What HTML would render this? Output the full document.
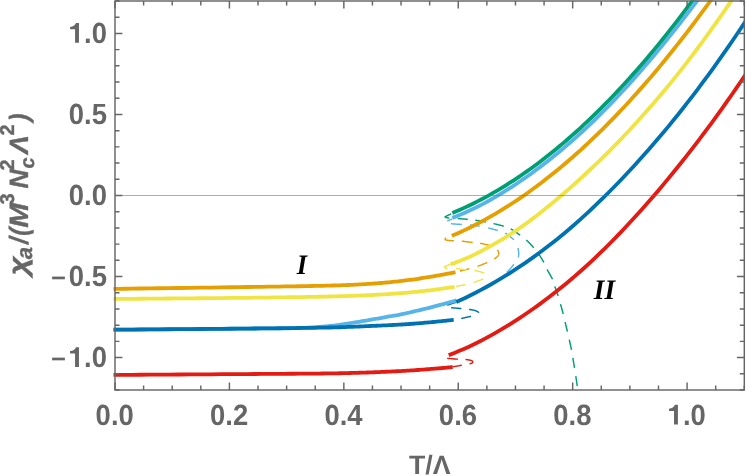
<!DOCTYPE html>
<html><head><meta charset="utf-8"><title>plot</title>
<style>html,body{margin:0;padding:0;background:#fff}svg{display:block;will-change:transform}text{text-rendering:geometricPrecision}</style>
</head><body>
<svg width="747" height="476" viewBox="0 0 747 476">
<rect width="747" height="476" fill="#fff"/>
<clipPath id="c"><rect x="112" y="0.3" width="632.9" height="391"/></clipPath>
<g clip-path="url(#c)" fill="none" stroke-linejoin="round">
<path d="M451.80,235.20 L451.66,235.27 L451.49,235.36 L451.29,235.46 L451.07,235.58 L450.82,235.71 L450.56,235.84 L450.29,235.98 L450.02,236.12 L449.74,236.27 L449.47,236.41 L449.20,236.54 L448.95,236.67 L448.71,236.79 L448.50,236.90 L448.30,237.00 L448.11,237.09 L447.92,237.18 L447.73,237.27 L447.55,237.35 L447.38,237.43 L447.21,237.51 L447.04,237.59 L446.88,237.66 L446.73,237.73 L446.59,237.80 L446.45,237.87 L446.32,237.94 L446.20,238.00 L446.09,238.06 L445.98,238.12 L445.88,238.18 L445.79,238.23 L445.71,238.28 L445.63,238.33 L445.56,238.38 L445.50,238.43 L445.44,238.47 L445.38,238.52 L445.33,238.56 L445.28,238.61 L445.24,238.65 L445.20,238.70 L445.16,238.75 L445.13,238.79 L445.10,238.84 L445.08,238.88 L445.07,238.92 L445.05,238.96 L445.04,239.01 L445.04,239.05 L445.04,239.09 L445.04,239.13 L445.05,239.17 L445.06,239.22 L445.08,239.26 L445.10,239.30 L445.12,239.34 L445.15,239.39 L445.18,239.43 L445.21,239.48 L445.25,239.52 L445.29,239.57 L445.34,239.61 L445.39,239.66 L445.44,239.70 L445.50,239.74 L445.57,239.78 L445.64,239.82 L445.72,239.86 L445.80,239.90 L445.88,239.93 L445.95,239.97 L446.01,240.00 L446.08,240.03 L446.14,240.05 L446.21,240.08 L446.29,240.11 L446.39,240.13 L446.51,240.16 L446.64,240.18 L446.81,240.21 L447.00,240.24 L447.23,240.27 L447.50,240.30 L447.81,240.33 L448.15,240.37 L448.53,240.40 L448.94,240.44 L449.37,240.48 L449.83,240.51 L450.31,240.55 L450.80,240.59 L451.30,240.62 L451.82,240.66 L452.34,240.70 L452.86,240.73 L453.38,240.77 L453.90,240.80 L454.42,240.83 L454.93,240.85 L455.46,240.88 L455.99,240.90 L456.52,240.91 L457.07,240.93 L457.62,240.95 L458.19,240.97 L458.77,240.99 L459.36,241.02 L459.97,241.06 L460.60,241.10 L461.24,241.14 L461.90,241.20 L462.59,241.27 L463.33,241.34 L464.09,241.43 L464.88,241.52 L465.69,241.62 L466.51,241.72 L467.34,241.82 L468.16,241.93 L468.98,242.04 L469.78,242.14 L470.56,242.24 L471.31,242.33 L472.03,242.42 L472.70,242.50 L473.33,242.57 L473.94,242.63 L474.52,242.69 L475.07,242.74 L475.61,242.79 L476.13,242.84 L476.64,242.89 L477.13,242.93 L477.63,242.98 L478.11,243.03 L478.60,243.09 L479.09,243.15 L479.59,243.22 L480.10,243.30 L480.62,243.38 L481.13,243.47 L481.66,243.57 L482.18,243.67 L482.70,243.77 L483.21,243.88 L483.73,243.99 L484.23,244.10 L484.73,244.21 L485.23,244.33 L485.71,244.45 L486.19,244.56 L486.65,244.68 L487.10,244.80 L487.54,244.92 L487.97,245.04 L488.40,245.16 L488.81,245.28 L489.22,245.40 L489.63,245.53 L490.02,245.66 L490.40,245.78 L490.78,245.92 L491.14,246.05 L491.50,246.18 L491.84,246.32 L492.18,246.46 L492.50,246.60 L492.81,246.75 L493.11,246.90 L493.41,247.05 L493.69,247.21 L493.96,247.37 L494.22,247.54 L494.48,247.70 L494.72,247.86 L494.95,248.03 L495.18,248.19 L495.40,248.35 L495.61,248.50 L495.81,248.65 L496.00,248.80 L496.18,248.94 L496.35,249.07 L496.51,249.20 L496.66,249.32 L496.80,249.44 L496.93,249.56 L497.06,249.68 L497.17,249.79 L497.29,249.91 L497.39,250.04 L497.50,250.17 L497.60,250.30 L497.70,250.45 L497.80,250.60 L497.90,250.76 L498.00,250.93 L498.10,251.10 L498.20,251.28 L498.30,251.46 L498.39,251.64 L498.48,251.83 L498.55,252.02 L498.62,252.22 L498.68,252.41 L498.73,252.61 L498.77,252.81 L498.79,253.00 L498.80,253.20 L498.80,253.40 L498.79,253.60 L498.77,253.80 L498.74,254.01 L498.70,254.22 L498.65,254.43 L498.59,254.64 L498.52,254.85 L498.44,255.06 L498.34,255.27 L498.23,255.48 L498.10,255.69 L497.96,255.90 L497.80,256.10 L497.63,256.30 L497.44,256.50 L497.25,256.69 L497.04,256.88 L496.81,257.07 L496.58,257.27 L496.32,257.46 L496.06,257.65 L495.78,257.85 L495.48,258.04 L495.16,258.25 L494.83,258.46 L494.47,258.68 L494.10,258.90 L493.71,259.13 L493.30,259.37 L492.87,259.61 L492.42,259.86 L491.95,260.11 L491.47,260.37 L490.97,260.63 L490.46,260.89 L489.93,261.16 L489.39,261.43 L488.83,261.69 L488.27,261.96 L487.69,262.23 L487.10,262.50 L486.49,262.77 L485.85,263.06 L485.19,263.34 L484.50,263.64 L483.80,263.94 L483.09,264.23 L482.37,264.53 L481.65,264.82 L480.92,265.11 L480.21,265.39 L479.50,265.66 L478.82,265.92 L478.15,266.17 L477.50,266.40 L476.88,266.61 L476.28,266.81 L475.69,267.00 L475.12,267.17 L474.56,267.34 L474.00,267.49 L473.45,267.64 L472.90,267.79 L472.34,267.94 L471.78,268.08 L471.21,268.23 L470.62,268.38 L470.02,268.54 L469.40,268.70 L468.75,268.87 L468.06,269.05 L467.35,269.23 L466.61,269.42 L465.86,269.60 L465.11,269.79 L464.36,269.97 L463.62,270.16 L462.90,270.33 L462.20,270.51 L461.53,270.67 L460.91,270.82 L460.33,270.97 L459.80,271.10 L459.32,271.22 L458.87,271.33 L458.45,271.44 L458.06,271.54 L457.70,271.63 L457.36,271.72 L457.05,271.80 L456.76,271.87 L456.50,271.94 L456.26,272.00 L456.04,272.06 L455.84,272.11 L455.66,272.16 L455.50,272.20" stroke="#E69F00" stroke-width="1.45" stroke-dasharray="0 6.26 11.0 8.01 10.88 7.44 10.2 8.5 11.47 7.88 10.36 8.42 9.9 999"/>
<path d="M452.30,218.90 L452.19,218.94 L452.06,219.00 L451.91,219.06 L451.74,219.14 L451.56,219.22 L451.36,219.30 L451.16,219.39 L450.94,219.48 L450.73,219.57 L450.51,219.66 L450.30,219.75 L450.09,219.84 L449.89,219.92 L449.70,220.00 L449.51,220.08 L449.32,220.15 L449.12,220.23 L448.92,220.30 L448.72,220.38 L448.52,220.46 L448.32,220.53 L448.13,220.60 L447.94,220.68 L447.77,220.75 L447.60,220.81 L447.45,220.88 L447.32,220.94 L447.20,221.00 L447.10,221.05 L447.01,221.10 L446.94,221.15 L446.88,221.19 L446.83,221.24 L446.79,221.27 L446.76,221.31 L446.73,221.35 L446.72,221.39 L446.70,221.43 L446.70,221.47 L446.70,221.51 L446.70,221.55 L446.70,221.60 L446.71,221.65 L446.72,221.70 L446.74,221.76 L446.77,221.82 L446.80,221.88 L446.83,221.93 L446.88,221.99 L446.92,222.05 L446.97,222.11 L447.03,222.17 L447.09,222.23 L447.16,222.29 L447.23,222.35 L447.30,222.40 L447.38,222.45 L447.46,222.51 L447.55,222.56 L447.64,222.61 L447.74,222.66 L447.84,222.71 L447.95,222.76 L448.06,222.81 L448.18,222.86 L448.29,222.91 L448.42,222.96 L448.54,223.01 L448.67,223.05 L448.80,223.10 L448.91,223.15 L449.00,223.19 L449.07,223.23 L449.12,223.27 L449.18,223.31 L449.24,223.35 L449.31,223.39 L449.41,223.43 L449.54,223.48 L449.72,223.52 L449.94,223.56 L450.22,223.60 L450.57,223.65 L451.00,223.70 L451.52,223.75 L452.13,223.81 L452.81,223.86 L453.56,223.92 L454.37,223.98 L455.21,224.04 L456.08,224.11 L456.97,224.17 L457.86,224.23 L458.74,224.29 L459.59,224.34 L460.41,224.40 L461.19,224.45 L461.90,224.50 L462.56,224.54 L463.19,224.58 L463.79,224.61 L464.37,224.64 L464.94,224.67 L465.49,224.70 L466.03,224.72 L466.57,224.75 L467.11,224.78 L467.66,224.81 L468.22,224.85 L468.79,224.89 L469.38,224.94 L470.00,225.00 L470.64,225.06 L471.30,225.13 L471.98,225.20 L472.66,225.27 L473.36,225.35 L474.06,225.43 L474.77,225.52 L475.48,225.61 L476.18,225.70 L476.89,225.79 L477.58,225.89 L478.27,225.99 L478.94,226.09 L479.60,226.20 L480.24,226.31 L480.87,226.42 L481.49,226.53 L482.10,226.65 L482.70,226.77 L483.30,226.89 L483.90,227.02 L484.50,227.15 L485.10,227.28 L485.70,227.42 L486.31,227.56 L486.93,227.70 L487.56,227.85 L488.20,228.00 L488.86,228.16 L489.54,228.32 L490.23,228.49 L490.93,228.66 L491.64,228.83 L492.35,229.01 L493.07,229.19 L493.78,229.38 L494.49,229.56 L495.18,229.75 L495.86,229.94 L496.53,230.13 L497.18,230.31 L497.80,230.50 L498.41,230.69 L499.02,230.88 L499.62,231.07 L500.22,231.27 L500.81,231.47 L501.39,231.67 L501.95,231.87 L502.50,232.07 L503.02,232.26 L503.53,232.46 L504.02,232.65 L504.47,232.84 L504.90,233.02 L505.30,233.20 L505.66,233.37 L505.96,233.52 L506.23,233.66 L506.46,233.80 L506.67,233.93 L506.86,234.06 L507.03,234.19 L507.20,234.33 L507.37,234.47 L507.55,234.63 L507.75,234.79 L507.97,234.97 L508.21,235.18 L508.50,235.40 L508.82,235.65 L509.18,235.92 L509.56,236.21 L509.96,236.52 L510.38,236.84 L510.81,237.17 L511.24,237.51 L511.67,237.85 L512.09,238.19 L512.50,238.53 L512.89,238.86 L513.26,239.19 L513.60,239.50 L513.90,239.80 L514.17,240.08 L514.43,240.36 L514.66,240.62 L514.88,240.88 L515.08,241.14 L515.27,241.39 L515.45,241.64 L515.62,241.90 L515.77,242.15 L515.93,242.40 L516.07,242.67 L516.22,242.94 L516.36,243.21 L516.50,243.50 L516.64,243.80 L516.77,244.10 L516.89,244.40 L517.00,244.71 L517.11,245.03 L517.22,245.35 L517.31,245.67 L517.40,245.99 L517.49,246.32 L517.58,246.65 L517.66,246.99 L517.74,247.32 L517.82,247.66 L517.90,248.00 L517.98,248.34 L518.06,248.69 L518.13,249.05 L518.21,249.41 L518.28,249.77 L518.35,250.13 L518.42,250.50 L518.48,250.87 L518.53,251.23 L518.58,251.59 L518.63,251.95 L518.66,252.31 L518.68,252.66 L518.70,253.00 L518.71,253.34 L518.71,253.68 L518.70,254.02 L518.69,254.35 L518.67,254.69 L518.64,255.02 L518.61,255.34 L518.57,255.67 L518.52,255.99 L518.47,256.30 L518.41,256.61 L518.35,256.91 L518.28,257.21 L518.20,257.50 L518.12,257.78 L518.03,258.05 L517.93,258.32 L517.83,258.58 L517.72,258.83 L517.60,259.08 L517.48,259.32 L517.35,259.57 L517.22,259.81 L517.09,260.04 L516.95,260.28 L516.80,260.52 L516.65,260.76 L516.50,261.00 L516.34,261.24 L516.18,261.47 L516.02,261.70 L515.85,261.93 L515.67,262.16 L515.49,262.38 L515.31,262.61 L515.12,262.83 L514.92,263.06 L514.73,263.30 L514.53,263.54 L514.32,263.78 L514.11,264.04 L513.90,264.30 L513.68,264.57 L513.46,264.86 L513.23,265.15 L512.99,265.45 L512.75,265.75 L512.51,266.06 L512.26,266.37 L512.01,266.68 L511.76,266.99 L511.51,267.30 L511.26,267.61 L511.00,267.91 L510.75,268.21 L510.50,268.50 L510.24,268.79 L509.96,269.10 L509.68,269.41 L509.38,269.73 L509.08,270.04 L508.78,270.36 L508.49,270.66 L508.20,270.96 L507.93,271.24 L507.67,271.50 L507.44,271.74 L507.23,271.96 L507.05,272.15 L506.90,272.30" stroke="#56B4E9" stroke-width="1.45" stroke-dasharray="0 0.0 5.52 5.85 10.93 8.12 9.68 8.79 9.92 7.98 10.87 9.27 9.62 8.11 10.64 999"/>
<path d="M452.60,212.60 L452.55,212.65 L452.49,212.71 L452.43,212.77 L452.35,212.85 L452.28,212.93 L452.19,213.01 L452.10,213.11 L452.00,213.20 L451.89,213.30 L451.77,213.40 L451.64,213.50 L451.51,213.60 L451.36,213.70 L451.20,213.80 L451.02,213.90 L450.83,214.00 L450.62,214.11 L450.39,214.22 L450.16,214.33 L449.91,214.44 L449.66,214.55 L449.41,214.66 L449.16,214.77 L448.91,214.88 L448.67,214.99 L448.43,215.10 L448.21,215.20 L448.00,215.30 L447.80,215.40 L447.60,215.49 L447.40,215.59 L447.20,215.69 L447.01,215.78 L446.82,215.88 L446.63,215.97 L446.45,216.06 L446.28,216.14 L446.12,216.22 L445.97,216.30 L445.84,216.37 L445.71,216.44 L445.60,216.50 L445.50,216.55 L445.42,216.60 L445.35,216.64 L445.29,216.67 L445.24,216.70 L445.20,216.72 L445.16,216.74 L445.14,216.76 L445.12,216.78 L445.11,216.80 L445.10,216.82 L445.10,216.84 L445.10,216.87 L445.10,216.90 L445.11,216.93 L445.12,216.97 L445.13,217.00 L445.16,217.04 L445.18,217.08 L445.22,217.11 L445.26,217.15 L445.30,217.19 L445.35,217.22 L445.41,217.26 L445.47,217.30 L445.54,217.33 L445.62,217.37 L445.70,217.40 L445.79,217.43 L445.89,217.46 L446.00,217.49 L446.12,217.52 L446.25,217.55 L446.38,217.58 L446.52,217.61 L446.66,217.64 L446.80,217.67 L446.94,217.70 L447.09,217.72 L447.23,217.75 L447.37,217.77 L447.50,217.80 L447.62,217.82 L447.71,217.85 L447.79,217.87 L447.85,217.89 L447.91,217.91 L447.98,217.93 L448.05,217.95 L448.14,217.97 L448.25,217.99 L448.40,218.01 L448.57,218.03 L448.80,218.05 L449.07,218.08 L449.40,218.10 L449.79,218.12 L450.22,218.15 L450.70,218.17 L451.23,218.19 L451.78,218.21 L452.37,218.24 L452.98,218.26 L453.62,218.29 L454.27,218.32 L454.93,218.35 L455.60,218.38 L456.27,218.42 L456.94,218.46 L457.60,218.50 L458.27,218.55 L458.98,218.60 L459.70,218.66 L460.45,218.72 L461.21,218.79 L461.97,218.86 L462.74,218.93 L463.51,219.00 L464.27,219.07 L465.02,219.14 L465.76,219.20 L466.47,219.27 L467.15,219.34 L467.80,219.40 L468.43,219.46 L469.04,219.52 L469.63,219.58 L470.22,219.64 L470.79,219.70 L471.34,219.76 L471.89,219.81 L472.42,219.87 L472.93,219.93 L473.43,219.98 L473.92,220.04 L474.39,220.09 L474.85,220.15 L475.30,220.20 L475.72,220.25 L476.12,220.30 L476.49,220.35 L476.84,220.40 L477.17,220.44 L477.49,220.49 L477.80,220.53 L478.11,220.58 L478.42,220.62 L478.73,220.67 L479.05,220.73 L479.38,220.78 L479.73,220.84 L480.10,220.90 L480.48,220.97 L480.87,221.03 L481.26,221.10 L481.66,221.17 L482.06,221.24 L482.47,221.32 L482.88,221.39 L483.30,221.47 L483.73,221.55 L484.17,221.64 L484.61,221.72 L485.06,221.81 L485.53,221.91 L486.00,222.00 L486.48,222.10 L486.96,222.19 L487.45,222.29 L487.95,222.39 L488.45,222.49 L488.96,222.60 L489.48,222.71 L490.01,222.82 L490.56,222.93 L491.11,223.06 L491.69,223.18 L492.27,223.31 L492.88,223.45 L493.50,223.60 L494.15,223.75 L494.84,223.92 L495.56,224.09 L496.31,224.27 L497.07,224.45 L497.85,224.64 L498.63,224.83 L499.41,225.03 L500.18,225.22 L500.94,225.42 L501.68,225.62 L502.39,225.81 L503.06,226.01 L503.70,226.20 L504.30,226.39 L504.89,226.58 L505.45,226.77 L506.00,226.96 L506.53,227.15 L507.05,227.34 L507.55,227.53 L508.04,227.72 L508.51,227.92 L508.97,228.11 L509.42,228.31 L509.85,228.50 L510.28,228.70 L510.70,228.90 L511.10,229.10 L511.48,229.30 L511.84,229.50 L512.18,229.70 L512.51,229.90 L512.83,230.10 L513.14,230.31 L513.44,230.51 L513.74,230.72 L514.04,230.93 L514.34,231.14 L514.65,231.36 L514.97,231.58 L515.30,231.80 L515.63,232.02 L515.96,232.25 L516.29,232.47 L516.62,232.69 L516.94,232.92 L517.27,233.15 L517.60,233.38 L517.93,233.62 L518.27,233.86 L518.62,234.11 L518.98,234.37 L519.34,234.64 L519.71,234.91 L520.10,235.20 L520.50,235.49 L520.90,235.79 L521.31,236.08 L521.73,236.38 L522.16,236.69 L522.60,237.01 L523.04,237.33 L523.49,237.67 L523.94,238.01 L524.40,238.38 L524.87,238.75 L525.34,239.15 L525.82,239.56 L526.30,240.00 L526.80,240.46 L527.32,240.96 L527.85,241.49 L528.40,242.04 L528.96,242.61 L529.52,243.19 L530.09,243.78 L530.65,244.37 L531.20,244.96 L531.74,245.54 L532.26,246.11 L532.77,246.66 L533.25,247.20 L533.70,247.70 L534.12,248.17 L534.52,248.62 L534.89,249.05 L535.24,249.46 L535.58,249.85 L535.91,250.24 L536.23,250.63 L536.54,251.02 L536.85,251.42 L537.16,251.83 L537.48,252.26 L537.81,252.71 L538.14,253.19 L538.50,253.70 L538.87,254.25 L539.26,254.83 L539.66,255.43 L540.06,256.07 L540.47,256.71 L540.89,257.38 L541.30,258.04 L541.71,258.71 L542.11,259.38 L542.50,260.04 L542.88,260.69 L543.24,261.32 L543.58,261.92 L543.90,262.50 L544.19,263.04 L544.45,263.56 L544.69,264.05 L544.91,264.52 L545.12,264.98 L545.31,265.43 L545.50,265.88 L545.69,266.33 L545.88,266.79 L546.09,267.27 L546.31,267.76 L546.55,268.27 L546.81,268.82 L547.10,269.40 L547.43,270.02 L547.78,270.68 L548.17,271.37 L548.57,272.09 L548.99,272.83 L549.42,273.58 L549.86,274.34 L550.29,275.10 L550.71,275.85 L551.12,276.59 L551.51,277.31 L551.87,278.01 L552.20,278.67 L552.50,279.30 L552.76,279.89 L552.98,280.44 L553.18,280.96 L553.35,281.46 L553.51,281.94 L553.64,282.40 L553.77,282.86 L553.90,283.32 L554.02,283.79 L554.15,284.26 L554.29,284.76 L554.44,285.27 L554.61,285.82 L554.80,286.40 L555.01,287.02 L555.24,287.66 L555.48,288.34 L555.72,289.03 L555.98,289.74 L556.24,290.46 L556.50,291.19 L556.76,291.93 L557.02,292.65 L557.28,293.38 L557.52,294.09 L557.76,294.78 L557.99,295.45 L558.20,296.10 L558.40,296.72 L558.58,297.32 L558.76,297.89 L558.93,298.45 L559.09,299.00 L559.24,299.55 L559.39,300.09 L559.54,300.63 L559.69,301.17 L559.85,301.73 L560.00,302.29 L560.16,302.87 L560.33,303.47 L560.50,304.10 L560.68,304.75 L560.87,305.43 L561.07,306.13 L561.27,306.85 L561.47,307.57 L561.67,308.31 L561.88,309.05 L562.08,309.79 L562.28,310.53 L562.48,311.25 L562.67,311.97 L562.85,312.67 L563.03,313.35 L563.20,314.00 L563.36,314.63 L563.51,315.23 L563.65,315.81 L563.79,316.38 L563.92,316.93 L564.05,317.48 L564.18,318.02 L564.30,318.56 L564.42,319.10 L564.55,319.65 L564.68,320.21 L564.81,320.79 L564.95,321.38 L565.10,322.00 L565.25,322.64 L565.41,323.30 L565.57,323.98 L565.74,324.67 L565.91,325.37 L566.08,326.08 L566.25,326.79 L566.42,327.51 L566.59,328.22 L566.76,328.92 L566.93,329.61 L567.09,330.29 L567.25,330.96 L567.40,331.60 L567.55,332.22 L567.69,332.82 L567.83,333.40 L567.96,333.96 L568.10,334.52 L568.23,335.07 L568.36,335.61 L568.49,336.16 L568.62,336.71 L568.75,337.28 L568.88,337.85 L569.02,338.45 L569.16,339.06 L569.30,339.70 L569.45,340.37 L569.61,341.07 L569.77,341.78 L569.93,342.52 L570.10,343.27 L570.26,344.03 L570.43,344.80 L570.60,345.57 L570.76,346.33 L570.92,347.08 L571.08,347.82 L571.23,348.53 L571.37,349.23 L571.50,349.90 L571.62,350.54 L571.74,351.15 L571.85,351.74 L571.95,352.31 L572.05,352.87 L572.15,353.42 L572.24,353.96 L572.33,354.51 L572.42,355.05 L572.51,355.61 L572.60,356.18 L572.70,356.76 L572.80,357.37 L572.90,358.00 L573.01,358.66 L573.12,359.35 L573.24,360.05 L573.35,360.77 L573.47,361.51 L573.59,362.25 L573.71,363.00 L573.82,363.75 L573.94,364.49 L574.06,365.23 L574.17,365.95 L574.29,366.65 L574.39,367.34 L574.50,368.00 L574.60,368.63 L574.70,369.24 L574.79,369.83 L574.89,370.39 L574.98,370.95 L575.07,371.50 L575.16,372.04 L575.24,372.59 L575.33,373.14 L575.42,373.70 L575.51,374.27 L575.61,374.85 L575.70,375.46 L575.80,376.10 L575.90,376.77 L576.01,377.49 L576.12,378.25 L576.24,379.02 L576.36,379.82 L576.48,380.62 L576.59,381.42 L576.71,382.21 L576.82,382.98 L576.93,383.72 L577.03,384.42 L577.13,385.07 L577.22,385.67 L577.30,386.20 L577.37,386.67 L577.44,387.11 L577.50,387.50 L577.55,387.86 L577.61,388.18 L577.65,388.47 L577.69,388.73 L577.73,388.97 L577.77,389.18 L577.80,389.37 L577.83,389.55 L577.85,389.71 L577.88,389.86 L577.90,390.00" stroke="#009E73" stroke-width="1.45" stroke-dasharray="0 1.85 11.49 8.21 10.24 7.54 10.85 7.67 10.53 7.51 11.33 7.85 10.68 7.69 10.33 7.61 11.28 7.47 10.28 8.32 10.26 8.22 9.87 8.32 10.43 8.22 10.13 8.2 10.21 999"/>
<path d="M450.70,264.10 L450.57,264.15 L450.40,264.22 L450.21,264.30 L449.99,264.39 L449.75,264.48 L449.50,264.58 L449.24,264.69 L448.97,264.80 L448.70,264.90 L448.43,265.01 L448.18,265.12 L447.93,265.22 L447.71,265.31 L447.50,265.40 L447.31,265.48 L447.12,265.56 L446.93,265.64 L446.75,265.72 L446.57,265.80 L446.40,265.87 L446.24,265.94 L446.08,266.02 L445.93,266.08 L445.78,266.15 L445.65,266.22 L445.52,266.28 L445.41,266.34 L445.30,266.40 L445.21,266.45 L445.12,266.51 L445.05,266.55 L444.99,266.60 L444.93,266.64 L444.88,266.68 L444.84,266.72 L444.81,266.76 L444.78,266.79 L444.76,266.83 L444.74,266.87 L444.72,266.91 L444.71,266.96 L444.70,267.00 L444.69,267.05 L444.69,267.10 L444.69,267.15 L444.70,267.20 L444.71,267.25 L444.73,267.30 L444.75,267.36 L444.78,267.41 L444.80,267.46 L444.84,267.51 L444.87,267.56 L444.91,267.61 L444.95,267.66 L445.00,267.70 L445.05,267.74 L445.10,267.78 L445.16,267.83 L445.22,267.87 L445.28,267.91 L445.35,267.94 L445.43,267.98 L445.50,268.02 L445.58,268.05 L445.66,268.08 L445.74,268.12 L445.82,268.15 L445.91,268.17 L446.00,268.20 L446.07,268.22 L446.13,268.25 L446.16,268.26 L446.19,268.28 L446.21,268.30 L446.24,268.31 L446.28,268.32 L446.33,268.34 L446.42,268.35 L446.54,268.36 L446.70,268.37 L446.91,268.38 L447.17,268.39 L447.50,268.40 L447.89,268.41 L448.34,268.41 L448.84,268.40 L449.38,268.40 L449.96,268.39 L450.58,268.38 L451.22,268.37 L451.89,268.36 L452.58,268.37 L453.28,268.37 L453.99,268.39 L454.70,268.41 L455.40,268.45 L456.10,268.50 L456.81,268.57 L457.55,268.65 L458.31,268.75 L459.10,268.86 L459.90,268.97 L460.71,269.10 L461.52,269.23 L462.33,269.35 L463.13,269.48 L463.91,269.60 L464.68,269.72 L465.42,269.83 L466.13,269.92 L466.80,270.00 L467.44,270.06 L468.06,270.12 L468.65,270.16 L469.23,270.20 L469.79,270.22 L470.33,270.25 L470.86,270.27 L471.38,270.29 L471.89,270.31 L472.38,270.34 L472.87,270.36 L473.35,270.40 L473.83,270.45 L474.30,270.50 L474.77,270.56 L475.22,270.63 L475.66,270.71 L476.10,270.78 L476.52,270.86 L476.94,270.95 L477.34,271.04 L477.74,271.13 L478.13,271.22 L478.52,271.31 L478.90,271.41 L479.27,271.51 L479.64,271.60 L480.00,271.70 L480.36,271.80 L480.71,271.90 L481.06,272.00 L481.41,272.11 L481.75,272.21 L482.08,272.32 L482.41,272.43 L482.72,272.54 L483.03,272.65 L483.33,272.76 L483.61,272.87 L483.89,272.98 L484.15,273.09 L484.40,273.20 L484.64,273.31 L484.86,273.41 L485.08,273.52 L485.28,273.63 L485.47,273.74 L485.65,273.84 L485.82,273.95 L485.99,274.06 L486.14,274.16 L486.29,274.27 L486.43,274.38 L486.56,274.49 L486.68,274.59 L486.80,274.70 L486.91,274.81 L487.01,274.91 L487.11,275.02 L487.20,275.13 L487.28,275.24 L487.35,275.34 L487.42,275.45 L487.47,275.56 L487.52,275.66 L487.56,275.77 L487.58,275.88 L487.60,275.99 L487.61,276.09 L487.60,276.20 L487.58,276.31 L487.56,276.42 L487.53,276.52 L487.48,276.63 L487.43,276.74 L487.37,276.85 L487.29,276.96 L487.21,277.06 L487.12,277.17 L487.02,277.28 L486.90,277.39 L486.78,277.49 L486.64,277.60 L486.50,277.70 L486.36,277.80 L486.22,277.89 L486.09,277.97 L485.95,278.05 L485.81,278.13 L485.66,278.21 L485.49,278.29 L485.30,278.38 L485.08,278.47 L484.83,278.57 L484.54,278.68 L484.21,278.81 L483.83,278.94 L483.40,279.10 L482.91,279.28 L482.35,279.47 L481.73,279.68 L481.06,279.91 L480.35,280.15 L479.62,280.39 L478.86,280.64 L478.08,280.90 L477.31,281.15 L476.54,281.40 L475.79,281.64 L475.05,281.87 L474.36,282.09 L473.70,282.30 L473.08,282.49 L472.48,282.68 L471.90,282.86 L471.34,283.04 L470.78,283.21 L470.24,283.37 L469.69,283.54 L469.15,283.70 L468.61,283.85 L468.05,284.01 L467.49,284.16 L466.91,284.31 L466.32,284.45 L465.70,284.60 L465.04,284.75 L464.34,284.90 L463.60,285.04 L462.84,285.19 L462.06,285.34 L461.28,285.48 L460.50,285.62 L459.74,285.75 L459.00,285.88 L458.31,286.00 L457.66,286.12 L457.07,286.22 L456.54,286.32 L456.10,286.40 L455.74,286.47 L455.44,286.53 L455.20,286.59 L455.01,286.63 L454.87,286.66 L454.77,286.69 L454.70,286.71 L454.65,286.73 L454.63,286.74 L454.61,286.76 L454.59,286.77 L454.57,286.78 L454.55,286.79 L454.50,286.80" stroke="#F0E442" stroke-width="1.45" stroke-dasharray="0 0.0 10.2 8.6 10.81 7.52 10.48 9.94 10.21 8.33 9.77 999"/>
<path d="M456.60,302.10 L456.39,302.17 L456.13,302.26 L455.83,302.36 L455.49,302.47 L455.12,302.59 L454.73,302.73 L454.32,302.86 L453.90,303.00 L453.47,303.15 L453.05,303.29 L452.63,303.42 L452.23,303.56 L451.85,303.68 L451.50,303.80 L451.16,303.91 L450.82,304.02 L450.47,304.13 L450.12,304.24 L449.78,304.35 L449.44,304.46 L449.11,304.56 L448.78,304.66 L448.47,304.76 L448.18,304.86 L447.90,304.95 L447.64,305.04 L447.41,305.12 L447.20,305.20 L447.02,305.27 L446.85,305.34 L446.71,305.40 L446.59,305.45 L446.49,305.50 L446.40,305.55 L446.32,305.59 L446.26,305.64 L446.21,305.68 L446.16,305.72 L446.12,305.76 L446.08,305.81 L446.04,305.85 L446.00,305.90 L445.96,305.95 L445.94,306.00 L445.92,306.05 L445.90,306.10 L445.90,306.15 L445.90,306.21 L445.91,306.26 L445.92,306.31 L445.94,306.36 L445.96,306.41 L445.99,306.46 L446.02,306.51 L446.06,306.55 L446.10,306.60 L446.14,306.65 L446.18,306.69 L446.22,306.74 L446.26,306.78 L446.30,306.83 L446.35,306.87 L446.41,306.91 L446.47,306.96 L446.55,307.00 L446.65,307.04 L446.75,307.08 L446.88,307.12 L447.03,307.16 L447.20,307.20 L447.38,307.24 L447.57,307.27 L447.75,307.31 L447.95,307.34 L448.16,307.37 L448.39,307.40 L448.63,307.43 L448.90,307.46 L449.19,307.50 L449.52,307.53 L449.88,307.57 L450.28,307.61 L450.72,307.65 L451.20,307.70 L451.74,307.75 L452.35,307.81 L453.02,307.87 L453.74,307.93 L454.49,308.00 L455.27,308.06 L456.07,308.13 L456.88,308.20 L457.69,308.27 L458.49,308.34 L459.27,308.41 L460.02,308.47 L460.73,308.54 L461.40,308.60 L462.03,308.66 L462.65,308.72 L463.26,308.77 L463.85,308.83 L464.43,308.88 L465.00,308.94 L465.55,308.99 L466.09,309.05 L466.62,309.10 L467.14,309.16 L467.65,309.22 L468.14,309.28 L468.63,309.34 L469.10,309.40 L469.56,309.46 L470.01,309.53 L470.45,309.59 L470.87,309.66 L471.28,309.73 L471.69,309.79 L472.07,309.86 L472.45,309.93 L472.82,310.01 L473.18,310.08 L473.52,310.16 L473.86,310.23 L474.18,310.32 L474.50,310.40 L474.80,310.49 L475.10,310.58 L475.38,310.67 L475.65,310.77 L475.91,310.86 L476.16,310.96 L476.39,311.06 L476.62,311.17 L476.84,311.27 L477.05,311.37 L477.25,311.48 L477.44,311.59 L477.62,311.69 L477.80,311.80 L477.97,311.91 L478.13,312.02 L478.29,312.14 L478.43,312.25 L478.57,312.37 L478.70,312.49 L478.82,312.61 L478.93,312.73 L479.02,312.85 L479.11,312.97 L479.18,313.08 L479.23,313.19 L479.27,313.30 L479.30,313.40 L479.31,313.50 L479.30,313.60 L479.27,313.69 L479.23,313.79 L479.18,313.88 L479.11,313.97 L479.04,314.06 L478.95,314.15 L478.86,314.23 L478.75,314.31 L478.65,314.39 L478.53,314.46 L478.42,314.53 L478.30,314.60 L478.18,314.66 L478.06,314.71 L477.94,314.76 L477.82,314.80 L477.69,314.84 L477.55,314.87 L477.40,314.91 L477.24,314.94 L477.07,314.97 L476.89,315.01 L476.69,315.05 L476.48,315.09 L476.25,315.14 L476.00,315.20 L475.74,315.26 L475.47,315.32 L475.19,315.38 L474.91,315.45 L474.61,315.51 L474.30,315.58 L473.97,315.65 L473.62,315.73 L473.25,315.81 L472.86,315.89 L472.44,315.98 L471.99,316.08 L471.51,316.19 L471.00,316.30 L470.44,316.42 L469.83,316.56 L469.18,316.71 L468.48,316.87 L467.76,317.03 L467.02,317.20 L466.26,317.38 L465.49,317.55 L464.73,317.72 L463.97,317.89 L463.23,318.06 L462.52,318.21 L461.84,318.36 L461.20,318.50 L460.58,318.63 L459.94,318.76 L459.31,318.89 L458.67,319.02 L458.04,319.15 L457.43,319.27 L456.84,319.39 L456.27,319.50 L455.73,319.60 L455.23,319.70 L454.77,319.79 L454.36,319.87 L454.00,319.94 L453.70,320.00" stroke="#0072B2" stroke-width="1.45" stroke-dasharray="0 0.0 9.9 7.51 10.24 7.74 10.56 9.93 10.04 999"/>
<path d="M448.70,354.70 L448.62,354.75 L448.52,354.82 L448.40,354.90 L448.26,354.99 L448.11,355.08 L447.95,355.18 L447.79,355.29 L447.62,355.40 L447.46,355.50 L447.30,355.61 L447.16,355.72 L447.02,355.82 L446.90,355.91 L446.80,356.00 L446.71,356.08 L446.64,356.16 L446.57,356.24 L446.51,356.31 L446.45,356.39 L446.40,356.46 L446.36,356.53 L446.33,356.60 L446.29,356.67 L446.27,356.74 L446.25,356.80 L446.23,356.87 L446.21,356.94 L446.20,357.00 L446.19,357.06 L446.19,357.13 L446.20,357.19 L446.21,357.25 L446.22,357.31 L446.24,357.37 L446.27,357.43 L446.30,357.49 L446.33,357.54 L446.36,357.60 L446.39,357.65 L446.43,357.70 L446.46,357.75 L446.50,357.80 L446.51,357.84 L446.49,357.88 L446.44,357.92 L446.38,357.95 L446.31,357.98 L446.24,358.01 L446.19,358.04 L446.17,358.07 L446.19,358.10 L446.25,358.14 L446.37,358.17 L446.57,358.21 L446.84,358.25 L447.20,358.30 L447.67,358.35 L448.24,358.41 L448.91,358.48 L449.65,358.55 L450.45,358.62 L451.30,358.69 L452.17,358.76 L453.07,358.84 L453.97,358.91 L454.86,358.97 L455.72,359.04 L456.54,359.10 L457.31,359.15 L458.00,359.20 L458.64,359.24 L459.27,359.27 L459.87,359.29 L460.46,359.31 L461.02,359.33 L461.58,359.34 L462.11,359.36 L462.63,359.37 L463.14,359.38 L463.64,359.40 L464.12,359.41 L464.59,359.44 L465.05,359.46 L465.50,359.50 L465.94,359.54 L466.37,359.59 L466.80,359.64 L467.21,359.70 L467.61,359.75 L467.99,359.81 L468.36,359.88 L468.72,359.94 L469.06,360.00 L469.38,360.06 L469.69,360.13 L469.98,360.19 L470.25,360.24 L470.50,360.30 L470.73,360.35 L470.93,360.40 L471.10,360.45 L471.26,360.50 L471.40,360.55 L471.52,360.60 L471.62,360.64 L471.72,360.69 L471.81,360.74 L471.89,360.79 L471.97,360.84 L472.04,360.89 L472.12,360.94 L472.20,361.00 L472.28,361.06 L472.35,361.12 L472.42,361.18 L472.48,361.24 L472.54,361.31 L472.59,361.37 L472.63,361.44 L472.67,361.50 L472.70,361.57 L472.73,361.64 L472.76,361.70 L472.78,361.77 L472.79,361.84 L472.80,361.90 L472.80,361.97 L472.80,362.03 L472.79,362.10 L472.77,362.17 L472.75,362.24 L472.72,362.31 L472.69,362.37 L472.66,362.44 L472.62,362.51 L472.58,362.57 L472.54,362.63 L472.49,362.69 L472.45,362.75 L472.40,362.80 L472.35,362.85 L472.31,362.89 L472.26,362.93 L472.21,362.97 L472.16,363.01 L472.11,363.04 L472.05,363.07 L471.99,363.11 L471.92,363.14 L471.85,363.17 L471.77,363.20 L471.69,363.23 L471.60,363.27 L471.50,363.30 L471.40,363.33 L471.32,363.36 L471.25,363.39 L471.17,363.42 L471.10,363.44 L471.02,363.47 L470.92,363.49 L470.81,363.52 L470.68,363.56 L470.52,363.59 L470.33,363.63 L470.09,363.68 L469.82,363.74 L469.50,363.80 L469.13,363.87 L468.71,363.95 L468.25,364.04 L467.76,364.13 L467.23,364.22 L466.67,364.32 L466.09,364.43 L465.50,364.53 L464.89,364.64 L464.27,364.75 L463.65,364.86 L463.02,364.98 L462.41,365.09 L461.80,365.20 L461.17,365.32 L460.49,365.44 L459.78,365.58 L459.04,365.71 L458.28,365.85 L457.52,366.00 L456.77,366.14 L456.04,366.27 L455.34,366.41 L454.68,366.53 L454.07,366.64 L453.53,366.74 L453.07,366.83 L452.70,366.90" stroke="#E31B12" stroke-width="1.45" stroke-dasharray="0 5.91 10.84 7.51 12.16 7.83 9.26 999"/>
<path d="M113.50,288.90 L118.58,288.83 L124.87,288.74 L132.22,288.64 L140.48,288.52 L149.50,288.40 L159.12,288.27 L169.19,288.13 L179.56,287.98 L190.08,287.83 L200.59,287.69 L210.94,287.54 L220.98,287.40 L230.56,287.26 L239.53,287.13 L247.72,287.01 L255.00,286.90 L261.58,286.80 L267.80,286.71 L273.68,286.62 L279.25,286.54 L284.52,286.46 L289.53,286.38 L294.30,286.31 L298.84,286.24 L303.19,286.17 L307.36,286.09 L311.38,286.02 L315.27,285.94 L319.05,285.86 L322.75,285.78 L326.40,285.69 L330.00,285.60 L333.48,285.50 L336.73,285.41 L339.78,285.31 L342.65,285.21 L345.35,285.11 L347.92,285.01 L350.35,284.91 L352.69,284.80 L354.94,284.69 L357.12,284.58 L359.27,284.46 L361.38,284.34 L363.49,284.21 L365.62,284.08 L367.78,283.94 L370.00,283.80 L372.23,283.65 L374.41,283.50 L376.55,283.34 L378.66,283.18 L380.73,283.01 L382.76,282.84 L384.77,282.67 L386.75,282.49 L388.71,282.30 L390.64,282.12 L392.56,281.92 L394.47,281.73 L396.36,281.53 L398.25,281.32 L400.12,281.11 L402.00,280.90 L403.86,280.68 L405.71,280.46 L407.53,280.23 L409.34,279.99 L411.13,279.75 L412.90,279.51 L414.66,279.26 L416.41,279.01 L418.14,278.76 L419.86,278.50 L421.57,278.24 L423.27,277.97 L424.96,277.71 L426.65,277.44 L428.33,277.17 L430.00,276.90 L431.71,276.62 L433.48,276.31 L435.30,275.99 L437.15,275.66 L439.01,275.33 L440.87,274.98 L442.70,274.64 L444.50,274.30 L446.24,273.97 L447.92,273.65 L449.50,273.35 L450.98,273.06 L452.33,272.80 L453.55,272.57 L454.61,272.37 L455.50,272.20" stroke="#E69F00" stroke-width="3.8"/>
<path d="M451.80,235.81 L456.23,233.90 L460.66,231.91 L465.09,229.85 L469.52,227.71 L473.95,225.50 L478.38,223.22 L482.81,220.86 L487.24,218.42 L491.67,215.92 L496.11,213.34 L500.54,210.68 L504.97,207.96 L509.40,205.15 L513.83,202.28 L518.26,199.33 L522.69,196.31 L527.12,193.21 L531.55,190.04 L535.98,186.80 L540.41,183.48 L544.84,180.09 L549.27,176.62 L553.70,173.08 L558.13,169.47 L562.56,165.78 L566.99,162.03 L571.42,158.19 L575.85,154.29 L580.28,150.31 L584.72,146.25 L589.15,142.13 L593.58,137.93 L598.01,133.65 L602.44,129.30 L606.87,124.88 L611.30,120.39 L615.73,115.82 L620.16,111.18 L624.59,106.47 L629.02,101.68 L633.45,96.82 L637.88,91.89 L642.31,86.88 L646.74,81.80 L651.17,76.65 L655.60,71.42 L660.03,66.12 L664.46,60.75 L668.89,55.31 L673.33,49.79 L677.76,44.19 L682.19,38.53 L686.62,32.79 L691.05,26.98 L695.48,21.10 L699.91,15.14 L704.34,9.11 L708.77,3.01 L713.20,-3.17" stroke="#E69F00" stroke-width="3.8"/>
<path d="M113.50,329.70 L118.63,329.66 L125.08,329.60 L132.65,329.54 L141.19,329.47 L150.51,329.39 L160.44,329.31 L170.81,329.22 L181.44,329.13 L192.16,329.04 L202.79,328.95 L213.16,328.86 L223.09,328.78 L232.42,328.70 L240.96,328.62 L248.55,328.56 L255.00,328.50 L260.49,328.45 L265.35,328.41 L269.62,328.38 L273.39,328.36 L276.69,328.34 L279.60,328.33 L282.17,328.31 L284.47,328.30 L286.55,328.28 L288.46,328.27 L290.28,328.24 L292.07,328.21 L293.87,328.18 L295.75,328.13 L297.78,328.07 L300.00,328.00 L302.31,327.92 L304.54,327.83 L306.70,327.73 L308.79,327.62 L310.82,327.51 L312.79,327.40 L314.70,327.27 L316.56,327.14 L318.37,327.01 L320.14,326.87 L321.87,326.73 L323.55,326.59 L325.21,326.45 L326.83,326.30 L328.43,326.15 L330.00,326.00 L331.52,325.85 L332.98,325.69 L334.37,325.53 L335.70,325.37 L336.99,325.20 L338.23,325.03 L339.44,324.86 L340.62,324.68 L341.79,324.50 L342.94,324.32 L344.09,324.14 L345.23,323.95 L346.39,323.77 L347.57,323.58 L348.77,323.39 L350.00,323.20 L351.25,323.01 L352.50,322.81 L353.75,322.62 L355.00,322.42 L356.25,322.22 L357.50,322.01 L358.75,321.81 L360.00,321.60 L361.25,321.39 L362.50,321.18 L363.75,320.97 L365.00,320.76 L366.25,320.54 L367.50,320.33 L368.75,320.12 L370.00,319.90 L371.26,319.68 L372.55,319.45 L373.86,319.22 L375.19,318.99 L376.52,318.75 L377.85,318.51 L379.18,318.27 L380.50,318.02 L381.80,317.79 L383.09,317.55 L384.34,317.32 L385.56,317.10 L386.75,316.89 L387.88,316.68 L388.97,316.48 L390.00,316.30 L390.94,316.14 L391.77,316.00 L392.52,315.88 L393.19,315.78 L393.80,315.68 L394.38,315.60 L394.94,315.52 L395.50,315.44 L396.07,315.35 L396.68,315.25 L397.34,315.14 L398.06,315.01 L398.87,314.85 L399.79,314.67 L400.83,314.45 L402.00,314.20 L403.31,313.91 L404.74,313.59 L406.28,313.25 L407.91,312.88 L409.62,312.49 L411.39,312.08 L413.22,311.66 L415.09,311.22 L416.99,310.77 L418.90,310.32 L420.82,309.86 L422.72,309.40 L424.61,308.94 L426.46,308.48 L428.26,308.04 L430.00,307.60 L431.75,307.15 L433.57,306.68 L435.45,306.18 L437.37,305.67 L439.31,305.15 L441.25,304.63 L443.17,304.10 L445.05,303.59 L446.88,303.08 L448.63,302.60 L450.30,302.14 L451.85,301.71 L453.28,301.31 L454.56,300.96 L455.67,300.65 L456.60,300.40" stroke="#56B4E9" stroke-width="3.8"/>
<path d="M452.30,217.88 L456.50,216.24 L460.70,214.51 L464.89,212.69 L469.09,210.79 L473.29,208.81 L477.49,206.74 L481.69,204.59 L485.89,202.33 L490.08,199.98 L494.28,197.55 L498.48,195.06 L502.68,192.51 L506.88,189.93 L511.08,187.29 L515.27,184.57 L519.47,181.77 L523.67,178.90 L527.87,175.95 L532.07,172.93 L536.27,169.84 L540.46,166.67 L544.66,163.44 L548.86,160.16 L553.06,156.82 L557.26,153.41 L561.46,149.94 L565.65,146.40 L569.85,142.79 L574.05,139.11 L578.25,135.34 L582.45,131.50 L586.65,127.58 L590.84,123.60 L595.04,119.55 L599.24,115.43 L603.44,111.24 L607.64,106.99 L611.84,102.66 L616.03,98.26 L620.23,93.78 L624.43,89.24 L628.63,84.64 L632.83,79.97 L637.03,75.24 L641.22,70.45 L645.42,65.59 L649.62,60.67 L653.82,55.69 L658.02,50.64 L662.22,45.54 L666.41,40.37 L670.61,35.15 L674.81,29.86 L679.01,24.52 L683.21,19.12 L687.41,13.66 L691.60,8.14 L695.80,2.56 L700.00,-3.08" stroke="#56B4E9" stroke-width="3.8"/>
<path d="M452.30,213.02 L456.42,211.29 L460.54,209.49 L464.66,207.63 L468.78,205.70 L472.90,203.70 L477.02,201.64 L481.14,199.51 L485.26,197.31 L489.38,195.05 L493.50,192.72 L497.62,190.32 L501.74,187.85 L505.86,185.32 L509.98,182.72 L514.11,180.05 L518.23,177.32 L522.35,174.52 L526.47,171.65 L530.59,168.72 L534.71,165.72 L538.83,162.65 L542.95,159.51 L547.07,156.31 L551.19,153.04 L555.31,149.71 L559.43,146.30 L563.55,142.83 L567.67,139.30 L571.79,135.69 L575.91,132.02 L580.03,128.29 L584.15,124.48 L588.27,120.61 L592.39,116.68 L596.51,112.67 L600.63,108.60 L604.75,104.46 L608.87,100.26 L612.99,95.99 L617.11,91.65 L621.23,87.25 L625.35,82.77 L629.47,78.24 L633.59,73.63 L637.72,68.96 L641.84,64.22 L645.96,59.42 L650.08,54.54 L654.20,49.61 L658.32,44.60 L662.44,39.53 L666.56,34.39 L670.68,29.19 L674.80,23.91 L678.92,18.58 L683.04,13.17 L687.16,7.70 L691.28,2.16 L695.40,-3.44" stroke="#009E73" stroke-width="3.8"/>
<path d="M113.50,299.00 L118.58,298.95 L124.87,298.90 L132.22,298.84 L140.48,298.76 L149.50,298.69 L159.12,298.60 L169.19,298.52 L179.56,298.42 L190.08,298.33 L200.59,298.24 L210.94,298.14 L220.98,298.05 L230.56,297.96 L239.53,297.87 L247.72,297.78 L255.00,297.70 L261.58,297.62 L267.80,297.55 L273.68,297.47 L279.25,297.40 L284.52,297.32 L289.53,297.25 L294.30,297.18 L298.84,297.11 L303.19,297.03 L307.36,296.96 L311.38,296.89 L315.27,296.81 L319.05,296.74 L322.75,296.66 L326.40,296.58 L330.00,296.50 L333.48,296.42 L336.73,296.34 L339.78,296.26 L342.65,296.18 L345.35,296.10 L347.92,296.02 L350.35,295.93 L352.69,295.85 L354.94,295.76 L357.12,295.68 L359.27,295.59 L361.38,295.50 L363.49,295.40 L365.62,295.31 L367.78,295.20 L370.00,295.10 L372.23,294.99 L374.41,294.88 L376.55,294.77 L378.66,294.66 L380.73,294.55 L382.76,294.43 L384.77,294.31 L386.75,294.19 L388.71,294.06 L390.64,293.93 L392.56,293.80 L394.47,293.67 L396.36,293.53 L398.25,293.39 L400.12,293.25 L402.00,293.10 L403.87,292.95 L405.72,292.79 L407.55,292.63 L409.36,292.47 L411.16,292.30 L412.95,292.13 L414.72,291.96 L416.47,291.79 L418.21,291.61 L419.93,291.43 L421.64,291.25 L423.34,291.06 L425.02,290.87 L426.69,290.68 L428.35,290.49 L430.00,290.30 L431.67,290.10 L433.40,289.88 L435.16,289.65 L436.95,289.41 L438.74,289.17 L440.52,288.92 L442.28,288.67 L444.00,288.43 L445.67,288.18 L447.26,287.95 L448.77,287.73 L450.18,287.53 L451.47,287.34 L452.63,287.17 L453.65,287.02 L454.50,286.90" stroke="#F0E442" stroke-width="3.8"/>
<path d="M450.70,264.33 L455.51,262.59 L460.31,260.76 L465.12,258.79 L469.92,256.68 L474.73,254.39 L479.53,251.96 L484.34,249.44 L489.14,246.83 L493.95,244.14 L498.75,241.37 L503.56,238.51 L508.36,235.55 L513.17,232.44 L517.97,229.20 L522.78,225.87 L527.58,222.45 L532.39,218.90 L537.19,215.23 L542.00,211.46 L546.80,207.60 L551.61,203.67 L556.41,199.68 L561.22,195.64 L566.02,191.53 L570.83,187.33 L575.63,183.04 L580.44,178.68 L585.24,174.25 L590.05,169.75 L594.85,165.19 L599.66,160.58 L604.46,155.90 L609.27,151.13 L614.07,146.27 L618.88,141.33 L623.68,136.30 L628.49,131.18 L633.29,125.97 L638.10,120.67 L642.90,115.29 L647.71,109.87 L652.51,104.38 L657.32,98.83 L662.12,93.20 L666.93,87.47 L671.73,81.63 L676.54,75.68 L681.34,69.59 L686.15,63.40 L690.95,57.13 L695.76,50.76 L700.56,44.30 L705.37,37.75 L710.17,31.12 L714.98,24.39 L719.78,17.57 L724.59,10.67 L729.39,3.67 L734.20,-3.42" stroke="#F0E442" stroke-width="3.8"/>
<path d="M113.50,329.70 L118.58,329.66 L124.87,329.61 L132.22,329.55 L140.48,329.48 L149.50,329.41 L159.12,329.33 L169.19,329.25 L179.56,329.16 L190.08,329.08 L200.59,328.99 L210.94,328.90 L220.98,328.81 L230.56,328.73 L239.53,328.65 L247.72,328.57 L255.00,328.50 L261.58,328.43 L267.80,328.37 L273.68,328.31 L279.25,328.25 L284.52,328.19 L289.53,328.13 L294.30,328.08 L298.84,328.02 L303.19,327.96 L307.36,327.90 L311.38,327.84 L315.27,327.78 L319.05,327.72 L322.75,327.65 L326.40,327.58 L330.00,327.50 L333.48,327.42 L336.73,327.34 L339.78,327.25 L342.65,327.16 L345.35,327.07 L347.92,326.97 L350.35,326.88 L352.69,326.78 L354.94,326.68 L357.12,326.58 L359.27,326.49 L361.38,326.39 L363.49,326.29 L365.62,326.19 L367.78,326.09 L370.00,326.00 L372.23,325.91 L374.41,325.82 L376.55,325.73 L378.66,325.64 L380.73,325.55 L382.76,325.47 L384.77,325.38 L386.75,325.29 L388.71,325.20 L390.64,325.11 L392.56,325.02 L394.47,324.92 L396.36,324.82 L398.25,324.72 L400.12,324.61 L402.00,324.50 L403.87,324.38 L405.72,324.26 L407.56,324.13 L409.38,324.00 L411.19,323.87 L412.98,323.74 L414.76,323.60 L416.52,323.46 L418.26,323.31 L419.99,323.17 L421.70,323.03 L423.40,322.88 L425.07,322.73 L426.73,322.59 L428.38,322.44 L430.00,322.30 L431.64,322.15 L433.33,321.99 L435.05,321.83 L436.78,321.66 L438.52,321.48 L440.24,321.31 L441.94,321.13 L443.60,320.96 L445.20,320.79 L446.74,320.63 L448.19,320.48 L449.54,320.34 L450.78,320.20 L451.90,320.09 L452.88,319.98 L453.70,319.90" stroke="#0072B2" stroke-width="3.8"/>
<path d="M456.30,302.05 L461.23,299.78 L466.16,297.43 L471.09,295.00 L476.02,292.49 L480.94,289.90 L485.87,287.23 L490.80,284.49 L495.73,281.66 L500.66,278.74 L505.59,275.74 L510.52,272.64 L515.45,269.46 L520.37,266.20 L525.30,262.85 L530.23,259.41 L535.16,255.89 L540.09,252.29 L545.02,248.60 L549.95,244.83 L554.88,240.97 L559.81,237.01 L564.73,232.94 L569.66,228.76 L574.59,224.48 L579.52,220.11 L584.45,215.64 L589.38,211.08 L594.31,206.44 L599.24,201.72 L604.16,196.92 L609.09,192.02 L614.02,187.03 L618.95,181.95 L623.88,176.78 L628.81,171.53 L633.74,166.21 L638.67,160.81 L643.59,155.33 L648.52,149.77 L653.45,144.11 L658.38,138.36 L663.31,132.52 L668.24,126.59 L673.17,120.57 L678.10,114.45 L683.03,108.24 L687.95,101.94 L692.88,95.55 L697.81,89.06 L702.74,82.48 L707.67,75.80 L712.60,69.03 L717.53,62.16 L722.46,55.19 L727.38,48.13 L732.31,40.96 L737.24,33.71 L742.17,26.35 L747.10,18.90" stroke="#0072B2" stroke-width="3.8"/>
<path d="M113.50,374.90 L118.58,374.87 L124.87,374.83 L132.22,374.78 L140.48,374.73 L149.50,374.68 L159.12,374.62 L169.19,374.55 L179.56,374.49 L190.08,374.42 L200.59,374.36 L210.94,374.29 L220.98,374.22 L230.56,374.16 L239.53,374.10 L247.72,374.05 L255.00,374.00 L261.58,373.95 L267.80,373.91 L273.68,373.87 L279.25,373.84 L284.52,373.80 L289.53,373.77 L294.30,373.74 L298.84,373.71 L303.19,373.67 L307.36,373.64 L311.38,373.61 L315.27,373.57 L319.05,373.53 L322.75,373.49 L326.40,373.45 L330.00,373.40 L333.47,373.35 L336.71,373.30 L339.74,373.25 L342.58,373.19 L345.25,373.14 L347.78,373.08 L350.19,373.02 L352.50,372.96 L354.73,372.90 L356.90,372.84 L359.04,372.77 L361.17,372.70 L363.31,372.63 L365.48,372.56 L367.70,372.48 L370.00,372.40 L372.33,372.32 L374.64,372.23 L376.93,372.15 L379.20,372.06 L381.44,371.96 L383.67,371.87 L385.87,371.77 L388.06,371.68 L390.23,371.57 L392.39,371.47 L394.53,371.36 L396.65,371.26 L398.76,371.15 L400.85,371.03 L402.93,370.92 L405.00,370.80 L407.07,370.68 L409.16,370.55 L411.26,370.42 L413.37,370.28 L415.46,370.14 L417.55,369.99 L419.61,369.85 L421.64,369.70 L423.64,369.55 L425.60,369.41 L427.50,369.26 L429.35,369.12 L431.13,368.98 L432.84,368.85 L434.46,368.72 L436.00,368.60 L437.47,368.48 L438.89,368.36 L440.25,368.24 L441.57,368.12 L442.84,368.00 L444.04,367.89 L445.20,367.77 L446.29,367.66 L447.32,367.56 L448.29,367.46 L449.19,367.36 L450.03,367.27 L450.81,367.19 L451.51,367.12 L452.14,367.05 L452.70,367.00" stroke="#E31B12" stroke-width="3.8"/>
<path d="M448.70,355.14 L453.76,353.16 L458.82,351.10 L463.87,348.93 L468.93,346.65 L473.99,344.25 L479.05,341.74 L484.10,339.11 L489.16,336.38 L494.22,333.57 L499.28,330.66 L504.33,327.66 L509.39,324.57 L514.45,321.39 L519.51,318.12 L524.56,314.75 L529.62,311.29 L534.68,307.73 L539.74,304.09 L544.79,300.34 L549.85,296.51 L554.91,292.57 L559.97,288.55 L565.03,284.43 L570.08,280.21 L575.14,275.91 L580.20,271.49 L585.26,266.96 L590.31,262.31 L595.37,257.56 L600.43,252.71 L605.49,247.77 L610.54,242.73 L615.60,237.59 L620.66,232.35 L625.72,227.01 L630.77,221.57 L635.83,216.06 L640.89,210.46 L645.95,204.78 L651.01,199.01 L656.06,193.14 L661.12,187.18 L666.18,181.14 L671.24,175.00 L676.29,168.78 L681.35,162.47 L686.41,156.08 L691.47,149.61 L696.52,143.05 L701.58,136.40 L706.64,129.64 L711.70,122.80 L716.75,115.86 L721.81,108.82 L726.87,101.69 L731.93,94.47 L736.98,87.16 L742.04,79.75 L747.10,72.24" stroke="#E31B12" stroke-width="3.8"/>
</g>
<line x1="115.0" x2="744.3" y1="195.50" y2="195.50" stroke="#6b6b6b" stroke-width="0.55"/>
<g stroke="#666666" stroke-width="1.45" fill="none">
<rect x="115.0" y="1.0" width="629.30" height="389.00"/>
<path d="M115.00,390.0v-7.4 M115.00,1.0v7.4 M143.60,390.0v-4.5 M143.60,1.0v4.5 M172.21,390.0v-4.5 M172.21,1.0v4.5 M200.81,390.0v-4.5 M200.81,1.0v4.5 M229.42,390.0v-7.4 M229.42,1.0v7.4 M258.02,390.0v-4.5 M258.02,1.0v4.5 M286.63,390.0v-4.5 M286.63,1.0v4.5 M315.23,390.0v-4.5 M315.23,1.0v4.5 M343.84,390.0v-7.4 M343.84,1.0v7.4 M372.44,390.0v-4.5 M372.44,1.0v4.5 M401.05,390.0v-4.5 M401.05,1.0v4.5 M429.65,390.0v-4.5 M429.65,1.0v4.5 M458.25,390.0v-7.4 M458.25,1.0v7.4 M486.86,390.0v-4.5 M486.86,1.0v4.5 M515.46,390.0v-4.5 M515.46,1.0v4.5 M544.07,390.0v-4.5 M544.07,1.0v4.5 M572.67,390.0v-7.4 M572.67,1.0v7.4 M601.28,390.0v-4.5 M601.28,1.0v4.5 M629.88,390.0v-4.5 M629.88,1.0v4.5 M658.49,390.0v-4.5 M658.49,1.0v4.5 M687.09,390.0v-7.4 M687.09,1.0v7.4 M715.70,390.0v-4.5 M715.70,1.0v4.5 M744.30,390.0v-4.5 M744.30,1.0v4.5 M115.0,390.00h4.5 M744.3,390.00h-4.5 M115.0,373.79h4.5 M744.3,373.79h-4.5 M115.0,357.58h7.4 M744.3,357.58h-7.4 M115.0,341.38h4.5 M744.3,341.38h-4.5 M115.0,325.17h4.5 M744.3,325.17h-4.5 M115.0,308.96h4.5 M744.3,308.96h-4.5 M115.0,292.75h4.5 M744.3,292.75h-4.5 M115.0,276.54h7.4 M744.3,276.54h-7.4 M115.0,260.33h4.5 M744.3,260.33h-4.5 M115.0,244.12h4.5 M744.3,244.12h-4.5 M115.0,227.92h4.5 M744.3,227.92h-4.5 M115.0,211.71h4.5 M744.3,211.71h-4.5 M115.0,195.50h7.4 M744.3,195.50h-7.4 M115.0,179.29h4.5 M744.3,179.29h-4.5 M115.0,163.08h4.5 M744.3,163.08h-4.5 M115.0,146.88h4.5 M744.3,146.88h-4.5 M115.0,130.67h4.5 M744.3,130.67h-4.5 M115.0,114.46h7.4 M744.3,114.46h-7.4 M115.0,98.25h4.5 M744.3,98.25h-4.5 M115.0,82.04h4.5 M744.3,82.04h-4.5 M115.0,65.83h4.5 M744.3,65.83h-4.5 M115.0,49.62h4.5 M744.3,49.62h-4.5 M115.0,33.42h7.4 M744.3,33.42h-7.4 M115.0,17.21h4.5 M744.3,17.21h-4.5 M115.0,1.00h4.5 M744.3,1.00h-4.5"/>
</g>
<g font-family="Liberation Sans, sans-serif" font-weight="bold" font-size="28" fill="#666666" >
<path d="M78.96,23.02 V42.72 H75.06 V29.22 H70.06 V26.92 Q74.66,26.62 75.96,23.02 Z"/><text transform="translate(84.02,43.22) scale(0.98,1.045)">.0</text>
<text transform="translate(106.90,124.26) scale(0.98,1.045)" text-anchor="end">0.5</text>
<text transform="translate(106.90,205.30) scale(0.98,1.045)" text-anchor="end">0.0</text>
<rect x="52.1" y="276.59" width="12.8" height="2.7"/>
<text transform="translate(106.90,286.34) scale(0.98,1.045)" text-anchor="end">0.5</text>
<rect x="52.1" y="357.63" width="12.8" height="2.7"/>
<path d="M78.96,347.18 V366.88 H75.06 V353.38 H70.06 V351.08 Q74.66,350.78 75.96,347.18 Z"/><text transform="translate(84.02,367.38) scale(0.98,1.045)">.0</text>
<text transform="translate(114.70,425.00) scale(0.98,1.045)" text-anchor="middle">0.0</text>
<text transform="translate(229.12,425.00) scale(0.98,1.045)" text-anchor="middle">0.2</text>
<text transform="translate(343.54,425.00) scale(0.98,1.045)" text-anchor="middle">0.4</text>
<text transform="translate(457.95,425.00) scale(0.98,1.045)" text-anchor="middle">0.6</text>
<text transform="translate(572.37,425.00) scale(0.98,1.045)" text-anchor="middle">0.8</text>
<path d="M677.92,404.80 V424.50 H674.02 V411.00 H669.02 V408.70 Q673.62,408.40 674.92,404.80 Z"/><text transform="translate(682.98,425.00) scale(0.98,1.045)">.0</text>
<text x="429.7" y="474" text-anchor="middle" font-size="26.7">T/Λ</text>
</g>
<g transform="rotate(-90)" font-family="Liberation Sans, sans-serif" font-weight="bold" font-style="italic" fill="#666666" stroke="#666666" stroke-width="0.35">
<text transform="translate(-275.60,27.00) scale(1.245,1)" font-size="26.5">χ</text>
<text transform="translate(-259.30,32.00) scale(1.0,1)" font-size="22">a</text>
<text transform="translate(-244.00,28.00) scale(0.9,1)" font-size="26.5">/</text>
<text transform="translate(-235.80,28.00) scale(0.9,1)" font-size="26.5">(</text>
<text transform="translate(-227.80,28.00) scale(1.12,1)" font-size="26.5">M</text>
<text transform="translate(-204.50,14.30) scale(1.0,1)" font-size="20" font-style="normal">3</text>
<text transform="translate(-188.50,28.00) scale(1.0,1)" font-size="26.5">N</text>
<text transform="translate(-170.50,14.30) scale(1.0,1)" font-size="20" font-style="normal">2</text>
<text transform="translate(-168.50,33.50) scale(1.0,1)" font-size="20">c</text>
<text transform="translate(-154.00,28.00) scale(1.06,1)" font-size="26.5">Λ</text>
<text transform="translate(-135.50,14.30) scale(1.0,1)" font-size="20" font-style="normal">2</text>
<text transform="translate(-121.50,28.00) scale(0.9,1)" font-size="26.5">)</text>
</g>
<g font-family="Liberation Serif, serif" font-weight="bold" font-style="italic" font-size="26" fill="#000" >
<text transform="translate(302,274.3) scale(1.02,1.08)" text-anchor="middle">I</text>
<text transform="translate(604.4,298.9) scale(1.05,1.08)" text-anchor="middle">II</text>
</g>
</svg>
</body></html>
